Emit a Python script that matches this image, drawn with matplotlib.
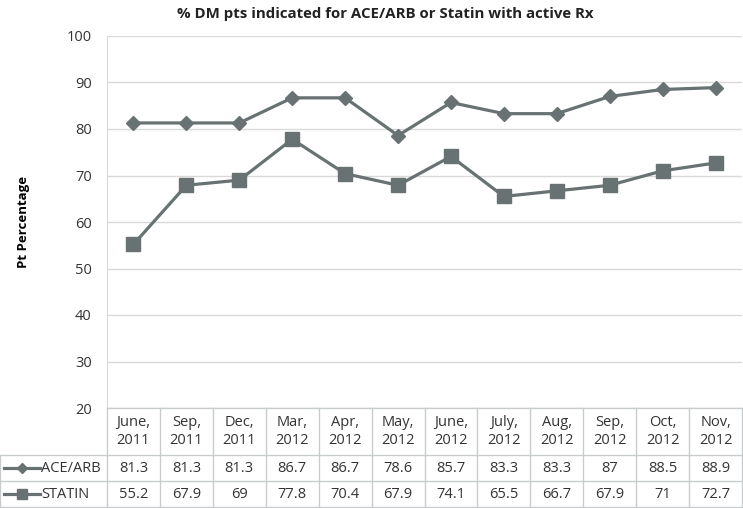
import matplotlib
matplotlib.use("Agg")
import matplotlib.pyplot as plt
from matplotlib.lines import Line2D

plt.rcParams['font.family'] = ['Open Sans', 'DejaVu Sans']

categories = ["June,\n2011", "Sep,\n2011", "Dec,\n2011", "Mar,\n2012", "Apr,\n2012", "May,\n2012",
              "June,\n2012", "July,\n2012", "Aug,\n2012", "Sep,\n2012", "Oct,\n2012", "Nov,\n2012"]
ace_arb = [81.3, 81.3, 81.3, 86.7, 86.7, 78.6, 85.7, 83.3, 83.3, 87, 88.5, 88.9]
statin = [55.2, 67.9, 69, 77.8, 70.4, 67.9, 74.1, 65.5, 66.7, 67.9, 71, 72.7]
ace_labels = ["81.3", "81.3", "81.3", "86.7", "86.7", "78.6", "85.7", "83.3", "83.3", "87", "88.5", "88.9"]
statin_labels = ["55.2", "67.9", "69", "77.8", "70.4", "67.9", "74.1", "65.5", "66.7", "67.9", "71", "72.7"]
series_names = ["ACE/ARB", "STATIN"]
yticks = [20, 30, 40, 50, 60, 70, 80, 90, 100]

W, H = 743, 508
fig = plt.figure(figsize=(W/100, H/100), dpi=100)

LINE = '#687272'
GRID = '#d9d9d9'
TXT = '#333333'

x0, x1 = 107, 742
ytop, ybot = 36, 408
ax = fig.add_axes([x0/W, (H-ybot)/H, (x1-x0)/W, (ybot-ytop)/H])
n = len(categories)
xs = list(range(n))
ax.plot(xs, ace_arb, color=LINE, lw=2.3, marker='D', ms=7.5, mec=LINE, mfc=LINE)
ax.plot(xs, statin, color=LINE, lw=2.3, marker='s', ms=9.5, mec=LINE, mfc=LINE)
ax.set_xlim(-0.5, n-0.5)
ax.set_ylim(20, 100)
ax.set_yticks(yticks)
ax.set_yticklabels([str(v) for v in yticks], fontsize=10.5, color=TXT)
ax.set_xticks([])
ax.grid(axis='y', color=GRID, lw=1)
ax.set_axisbelow(True)
for s in ['top', 'right', 'bottom']:
    ax.spines[s].set_visible(False)
ax.spines['left'].set_color(GRID)
ax.tick_params(axis='y', length=0, pad=11)
ax.set_ylabel("Pt Percentage", fontsize=9.5, fontweight='bold', color='black', labelpad=26)
fig.text(0.5 + 0.018, 1 - 14/H, "% DM pts indicated for ACE/ARB or Statin with active Rx",
         ha='center', va='center', fontsize=10.8, fontweight='bold', color='#222222')

# Data table
tax = fig.add_axes([0, 0, 1, 1])
tax.set_xlim(0, W)
tax.set_ylim(H, 0)
tax.axis('off')
rows_y = [408, 455, 481, 507]
colw = (x1 - x0) / n
for i in range(n + 1):
    xx = x0 + i * colw
    tax.plot([xx, xx], [rows_y[0], rows_y[-1]], color='#c8cccc', lw=1)
tax.plot([0, 0], [rows_y[1], rows_y[-1]], color='#c8cccc', lw=1)
tax.plot([x0, x1], [rows_y[0], rows_y[0]], color='#c8cccc', lw=1)
for yy in rows_y[1:]:
    tax.plot([0, x1], [yy, yy], color='#c8cccc', lw=1)
for i, c in enumerate(categories):
    cx = x0 + (i + 0.5) * colw
    tax.text(cx, (rows_y[0] + rows_y[1]) / 2, c, ha='center', va='center',
             fontsize=10.5, color=TXT, linespacing=1.25)
for r, (labels, mk, ms) in enumerate([(ace_labels, 'D', 5), (statin_labels, 's', 7)]):
    cy = (rows_y[r + 1] + rows_y[r + 2]) / 2
    for i, t in enumerate(labels):
        cx = x0 + (i + 0.5) * colw
        tax.text(cx, cy, t, ha='center', va='center', fontsize=10.5, color=TXT)
    tax.add_line(Line2D([4, 40], [cy, cy], color=LINE, lw=2.3))
    tax.plot([22], [cy], marker=mk, ms=ms, color=LINE)
    tax.text(41, cy, series_names[r], ha='left', va='center', fontsize=10.5, color=TXT)

fig.savefig("out.png", dpi=100)
